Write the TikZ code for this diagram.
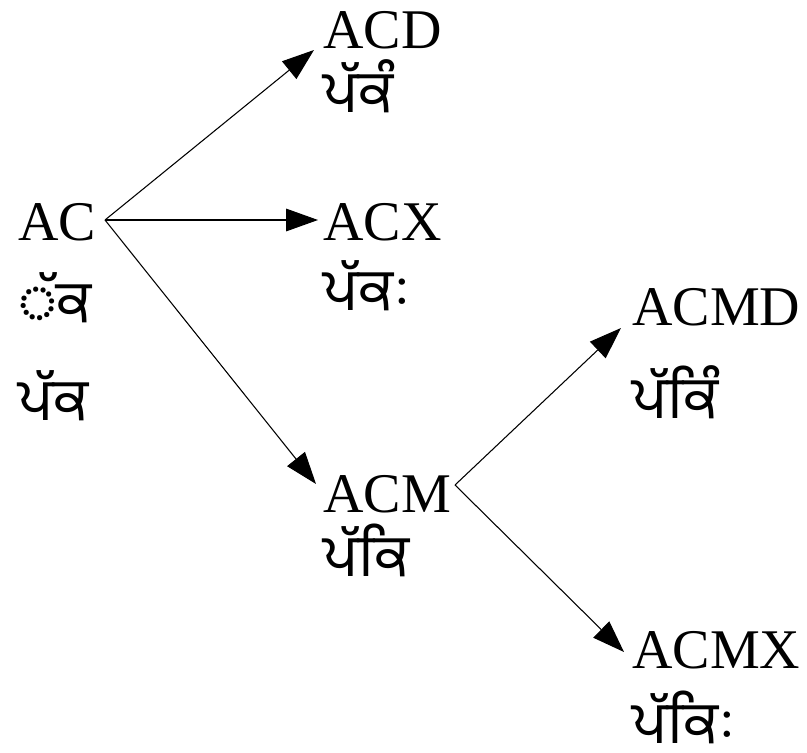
\documentclass[tikz,border=0pt]{standalone}
\usepackage{fontspec}
\setmainfont{Liberation Serif}
\newfontfamily\gurfont[Script=Gurmukhi]{Hind Jalandhar}
\usetikzlibrary{arrows.meta}
\tikzset{
  lat/.style={anchor=base west,inner sep=0pt,font=\fontsize{42}{48}\selectfont},
  gur/.style={anchor=base west,inner sep=0pt,text depth=0pt,font=\fontsize{44}{50}\selectfont\gurfont},
  arr/.style={-{Triangle[length=24pt,width=17pt]},line width=0.8pt}
}
\begin{document}
\begin{tikzpicture}[x=0.75pt,y=-0.75pt]
\useasboundingbox (0,0) rectangle (807,753);
% AC
\node[lat] (AC) at (18,240) {AC};
\node[gur] (ACg1) at (18,322) {◌ੱਕ};
\node[gur] (ACg2) at (18,420) {ਪੱਕ};
% ACD
\node[lat] (ACD) at (323,48) {ACD};
\node[gur] (ACDg) at (323,112) {ਪੱਕੰ};
% ACX
\node[lat] (ACX) at (323,240) {ACX};
\node[gur] (ACXg) at (323,310) {ਪੱਕਃ};
% ACM
\node[lat] (ACM) at (323,512) {ACM};
\node[gur] (ACMg) at (323,576) {ਪੱਕਿ};
% ACMD
\node[lat] (ACMD) at (632,325) {ACMD};
\node[gur] (ACMDg) at (632,418) {ਪੱਕਿੰ};
% ACMX
\node[lat] (ACMX) at (632,668) {ACMX};
\node[gur] (ACMXg) at (632,743) {ਪੱਕਿਃ};
% connector ends
\coordinate (ACo) at (105,220);
\coordinate (ACMo) at (455,485);
\coordinate (ACDi) at (314,50);
\coordinate (ACXi) at (318,220);
\coordinate (ACMi) at (316,484);
\coordinate (ACMDi) at (621,328);
\coordinate (ACMXi) at (624,652);
\draw[arr] (ACo) -- (ACDi);
\draw[arr] (ACo) -- (ACXi);
\draw[arr] (ACo) -- (ACMi);
\draw[arr] (ACMo) -- (ACMDi);
\draw[arr] (ACMo) -- (ACMXi);
\end{tikzpicture}
\end{document}
